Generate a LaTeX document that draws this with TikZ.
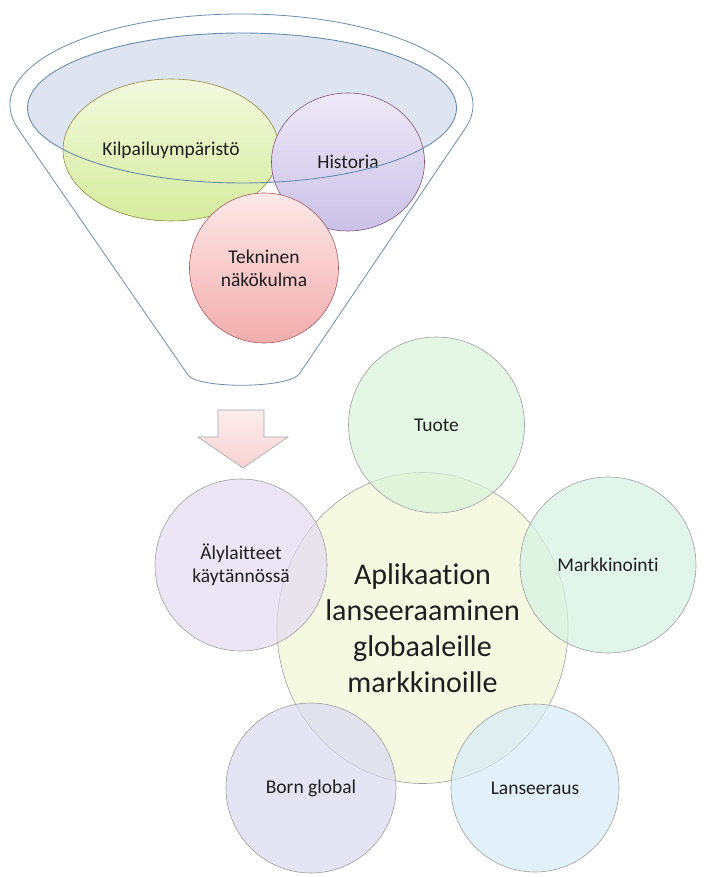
\documentclass[tikz,border=0pt]{standalone}
\usepackage{fontspec}
\setmainfont[Ligatures=NoCommon]{Carlito}
\usetikzlibrary{shapes.geometric}
\definecolor{funnelline}{HTML}{6A8DAE}
\definecolor{rimfill}{HTML}{DFE5F0}
\definecolor{txt}{HTML}{1E1E1E}
\definecolor{kilpA}{HTML}{F2F9DE}
\definecolor{kilpB}{HTML}{D6EC9E}
\definecolor{histA}{HTML}{EEE9F7}
\definecolor{histB}{HTML}{CAC1E7}
\definecolor{teknA}{HTML}{FDE8E8}
\definecolor{teknB}{HTML}{F2ADAD}
\definecolor{arrA}{HTML}{FCEDED}
\definecolor{arrB}{HTML}{F7D3D3}
\definecolor{tuoteC}{HTML}{D8F3D8}
\definecolor{markC}{HTML}{D6F1E3}
\definecolor{lansC}{HTML}{D6EAF6}
\definecolor{bornC}{HTML}{D9D9F1}
\definecolor{alyC}{HTML}{E4DAF1}
\definecolor{centC}{HTML}{F1F7D4}
\begin{document}
\begin{tikzpicture}[x=1pt,y=-1pt,
  lbl/.style={font=\fontsize{19.5}{23}\selectfont, text=txt, align=center},
  bigl/.style={font=\fontsize{30}{36}\selectfont, text=txt, align=center},
  topbub/.style={ellipse, inner sep=0pt, line width=0.6pt},
  bub/.style={circle, inner sep=0pt, draw=gray!75, line width=0.6pt, fill opacity=0.7, text opacity=1}]
\useasboundingbox (0,0) rectangle (707,877);
% funnel outline
\draw[funnelline, line width=0.8pt, line join=round]
  (241.5,105) ++(165:231.5 and 91) arc[start angle=165, end angle=375, x radius=231.5, y radius=91]
  -- (300,373) .. controls (290.5,389) and (197.7,389) .. (188,375) -- cycle;
% rim fill
\node[ellipse, fill=rimfill, minimum width=429pt, minimum height=150pt, inner sep=0pt] (rimfill) at (242,108) {};
% top bubbles
\node[topbub, draw=olive!55!gray, top color=kilpA, bottom color=kilpB, minimum width=216pt, minimum height=142pt, lbl] (kilp) at (171,150) {Kilpailuympäristö};
\node[topbub, draw=violet!35!gray, top color=histA, bottom color=histB, minimum width=153pt, minimum height=138pt, lbl] (hist) at (348,162) {Historia};
\node[topbub, draw=red!30!gray, top color=teknA, bottom color=teknB, minimum width=149pt, minimum height=150pt, lbl] (tekn) at (264,268) {Tekninen\\näkökulma};
% rim outline on top
\node[ellipse, draw=funnelline, line width=0.9pt, minimum width=429pt, minimum height=150pt, inner sep=0pt] (rim) at (242,108) {};
% arrow
\draw[draw=gray!70, line width=0.6pt, top color=arrA, bottom color=arrB]
  (218,410) -- (264,410) -- (264,437) -- (288,437) -- (243,468) -- (198,437) -- (218,437) -- cycle;
% bottom bubbles
\node[bub, ellipse, fill=centC, minimum width=291pt, minimum height=311pt, bigl] (center) at (422.5,628) {Aplikaation\\lanseeraaminen\\globaaleille\\markkinoille};
\node[bub, fill=tuoteC, minimum size=176pt, lbl] (tuote) at (436.5,425) {Tuote};
\node[bub, fill=markC, minimum size=176pt, lbl] (mark) at (608,565) {Markkinointi};
\node[bub, fill=lansC, minimum size=168pt, lbl] (lans) at (535,788) {Lanseeraus};
\node[bub, fill=bornC, minimum size=170pt, lbl] (born) at (311,788) {Born global};
\node[bub, fill=alyC, minimum size=172pt, lbl] (aly) at (241,565) {Älylaitteet\\käytännössä};
\end{tikzpicture}
\end{document}
